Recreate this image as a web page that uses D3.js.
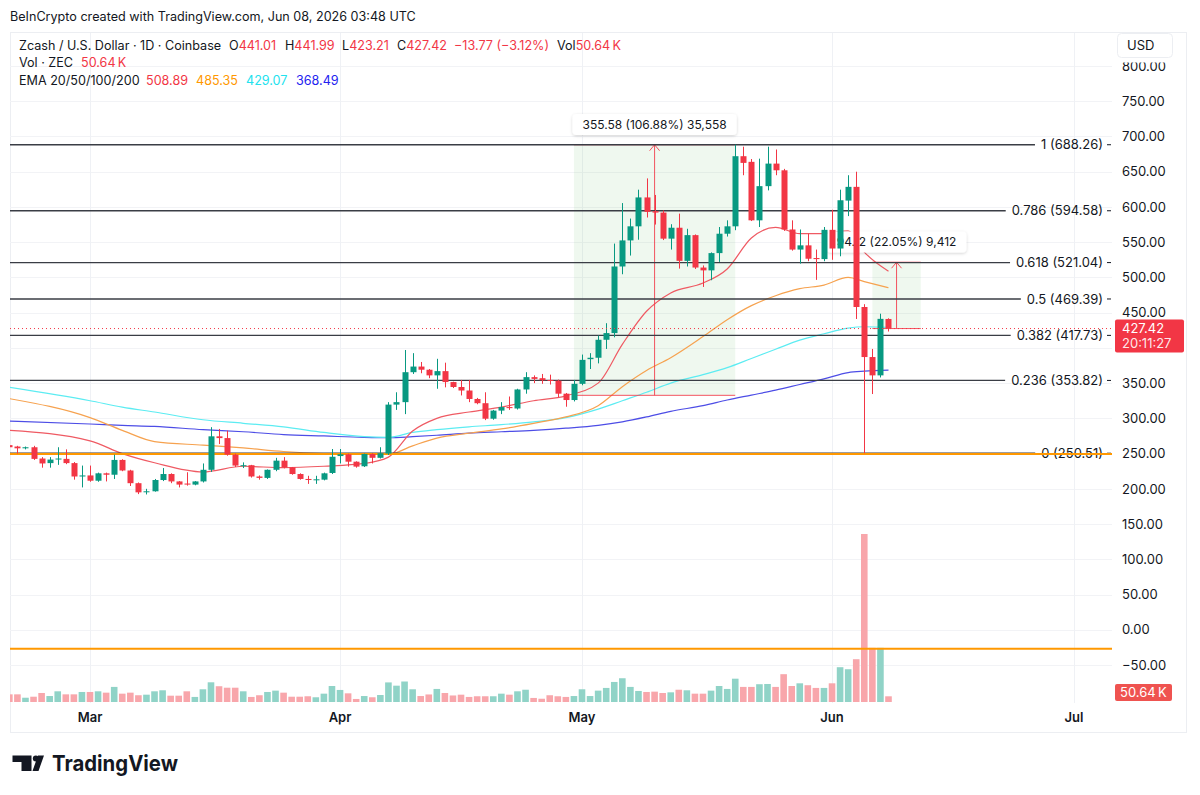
<!DOCTYPE html>
<html>
<head>
<meta charset="utf-8">
<script src="https://cdn.jsdelivr.net/npm/d3@7"></script>
<style>
  body { margin: 0; background: #fff; }
  svg { display: block; font-family: Inter, Roboto, "Noto Sans", sans-serif; }
</style>
</head>
<body>
<script>
// ---- data (ZEC/USD daily, Coinbase) ----
var startDay = "2026-02-19", endDay = "2026-06-08";

var opens = [262, 260, 257.5, 259, 243, 236.5, 242, 242.5, 236.5, 217.5,
  219, 211.5, 222, 220, 241, 226, 208, 195.5, 196.5, 212.5, 221, 210.5, 207.5, 206, 210.5, 227, 274.5, 272, 248.5, 232.5, 233.5, 217.5, 215.5, 227, 240, 230.5, 221, 214, 212.5, 213, 222.5,
  246.5, 249, 238.5, 232, 249.5, 244, 250, 319.5, 323, 365.5, 373.5, 369, 361, 367, 351.5, 344.5, 339.5, 327.5, 321.5, 299.5, 311, 316, 314, 341, 358.5, 357, 354.5, 353.5, 335, 326,
  349, 384, 386, 411.5, 421, 515.5, 552.5, 572.5, 613.5, 594, 592, 555, 570.5, 523.5, 560, 514, 510, 534.5, 562, 572.5, 672, 664, 581, 629.5, 661.5, 652, 568, 539.5, 545.5, 527.5, 526,
  567.5, 541, 609, 628.5, 458, 387, 361, 441.01];
var highs = [264, 261, 260, 261, 245, 245, 259, 256, 238, 233,
  233, 223, 223, 248.5, 242, 227, 209, 200, 214, 229.5, 222, 211, 223.5, 211, 236, 287.5, 285, 282.5, 250, 237.5, 234, 219, 227.5, 244, 245, 231, 222, 218.5, 218.5, 223, 256.5,
  256.5, 250, 239, 250, 250.5, 259, 323, 337, 397, 392.5, 380, 370, 384.5, 379, 352, 354.5, 354.5, 329, 337, 312, 323, 331, 342, 365.5, 361, 363, 362, 355, 336, 354.5,
  390.5, 392.5, 417.5, 435, 548, 605.5, 583.5, 624.5, 640.5, 617, 595, 575.5, 590.5, 569, 561, 517, 535.5, 571.5, 581, 688.26, 685.5, 668, 668.5, 685.5, 681.5, 654, 581, 568, 562, 539.5, 571.5,
  596, 624.5, 645, 650, 462, 398.5, 448.5, 441.99];
var lows = [257, 250, 256, 241, 230, 230, 234, 235, 213, 202,
  210, 210, 210.5, 214, 225, 204, 192.5, 192, 196, 211, 208, 202, 204.5, 205, 209, 224, 263.5, 247, 231, 229.5, 216, 213, 214, 225, 229, 220, 213, 207, 207, 212, 221,
  236, 231.5, 230, 231, 236, 243, 248, 312, 306, 363, 364, 357, 342, 344, 343, 332.5, 323, 320, 297.5, 298, 306, 312, 312.5, 335, 350, 349, 348, 330, 316.5, 324,
  347, 370, 378, 398.5, 415, 504.5, 531, 553.5, 585, 575, 553, 539.5, 512.5, 515.5, 512, 486.5, 496, 522, 558, 567, 645, 580, 571.5, 623.5, 645, 566, 538, 519.5, 523, 496.5, 523,
  525, 530, 587, 441, 250.51, 334.5, 358, 423.21];
var closes = [259, 257.5, 259, 242.5, 236, 241.5, 243, 236.5, 217.5, 219,
  211.5, 222, 220, 241, 226, 208, 195, 196.5, 212.5, 221, 210.5, 206, 206, 210.5, 227, 274.5, 272, 248.5, 233, 233.5, 217.5, 215.5, 227, 240, 230.5, 221, 214, 212.5, 213.5, 222, 245.5,
  249, 238.5, 231.5, 249.5, 244, 250.5, 319.5, 323, 365.5, 373.5, 369, 361, 367, 351.5, 344.5, 339.5, 327.5, 321.5, 299.5, 311, 316, 314.5, 341, 358.5, 356, 354, 353.5, 335, 326, 349,
  383, 386, 411.5, 421, 515.5, 552.5, 572.5, 613.5, 593, 592, 555, 570.5, 523.5, 560, 514, 510, 534.5, 562, 572.5, 672, 662.5, 581, 629.5, 661.5, 652, 568, 539.5, 545.5, 526.5, 526, 567.5,
  541, 609.5, 628.5, 458, 387, 361, 441.19, 427.42];
// volume in thousands of ZEC
var volumes = [68, 68, 38, 47, 80, 53, 95, 68, 68, 89,
  89, 95, 83, 134, 74, 83, 60, 65, 95, 104, 56, 56, 95, 45, 113, 175, 140, 127, 127, 95, 45, 60, 89, 101, 83, 47, 47, 51, 42, 74, 142,
  107, 77, 27, 53, 42, 62, 174, 145, 182, 113, 53, 67, 116, 80, 58, 65, 45, 51, 51, 51, 74, 65, 95, 109, 36, 29, 60, 51, 45, 53,
  113, 53, 101, 125, 178, 211, 134, 98, 89, 92, 80, 86, 109, 104, 74, 74, 101, 142, 116, 207, 134, 134, 158, 160, 134, 247, 142, 166, 149, 125, 125,
  166, 309, 291, 380, 1492, 481, 481, 50.64];

// EMA readings at sample days
var emaDays = ["2026-02-19", "2026-03-01", "2026-03-05", "2026-03-09", "2026-03-15", "2026-03-20", "2026-03-25", "2026-03-30",
  "2026-04-04", "2026-04-07", "2026-04-10", "2026-04-13", "2026-04-17", "2026-04-21", "2026-04-25", "2026-04-29",
  "2026-05-03", "2026-05-06", "2026-05-09", "2026-05-12", "2026-05-16", "2026-05-19", "2026-05-22", "2026-05-25",
  "2026-05-28", "2026-05-31", "2026-06-03", "2026-06-05", "2026-06-08"];
var ema20 = [283, 268, 250, 237, 224, 232, 230, 232, 236, 245, 282, 300, 309, 316, 325, 332, 350, 405, 452, 478, 492, 512, 556, 571, 562, 562, 566, 536, 508.89];
var ema50 = [328, 301, 283, 267, 262, 258, 253, 250, 249, 249, 261, 272, 279, 285, 293, 302, 318, 345, 368, 386, 416, 440, 460, 474, 484, 489, 500, 494, 485.35];
var ema100 = [344, 325, 316, 309, 298, 293, 288, 280, 274, 273, 280, 284, 288, 291, 295, 301, 313, 325, 337, 350, 362, 372, 385, 398, 411, 420, 428, 430, 429.07];
var ema200 = [296, 292, 290, 288.5, 284, 281, 277, 275, 273, 272.5, 274, 276, 279, 281, 283, 286, 290, 295, 302, 310, 318, 326, 333, 340, 348, 356, 365, 367, 368.49];

var fibRatios = ["1", "0.786", "0.618", "0.5", "0.382", "0.236", "0"];
var fibPrices = [688.26, 594.58, 521.04, 469.39, 417.73, 353.82, 250.51];
var orangeLevels = [249.3, -27];

var measureFrom = ["2026-04-30", "2026-06-06"];
var measureTo = ["2026-05-20", "2026-06-12"];
var measureLow = [332.68, 427.42];
var measureHigh = [688.26, 521.54];
var measureText = ["355.58 (106.88%) 35,558", "94.12 (22.05%) 9,412"];

var priceTicks = [800, 750, 700, 650, 600, 550, 500, 450, 400, 350, 300, 250, 200, 150, 100, 50, 0, -50];
var monthDays = ["2026-03-01", "2026-04-01", "2026-05-01", "2026-06-01", "2026-07-01"];
var monthNames = ["Mar", "Apr", "May", "Jun", "Jul"];
var lastPrice = 427.42;

// ---- layout ----
var W = 1200, H = 795;
var pL = 10, pR = 1112, pT = 33, pB = 703;
var green = "#089981", red = "#f23645", ink = "#131722";

var parse = d3.utcParse("%Y-%m-%d");
var days = d3.utcDay.range(parse(startDay), d3.utcDay.offset(parse(endDay), 1));

var x = d3.scaleUtc().domain([parse("2026-03-01"), parse("2026-07-01")]).range([90, 1074]);
var y = d3.scaleLinear().domain([-50, 800]).range([665, 66]);
var yv = d3.scaleLinear().domain([0, d3.max(volumes)]).range([702, 534]);

var svg = d3.select("body").append("svg").attr("width", W).attr("height", H);
svg.append("rect").attr("width", W).attr("height", H).attr("fill", "#fff");

var defs = svg.append("defs");
defs.append("clipPath").attr("id", "plot").append("rect")
  .attr("x", pL).attr("y", pT).attr("width", pR - pL).attr("height", pB - pT);
defs.append("clipPath").attr("id", "axisclip").append("rect")
  .attr("x", pR).attr("y", 62.5).attr("width", 80).attr("height", 620);
var f = defs.append("filter").attr("id", "shadow").attr("x", "-20%").attr("y", "-50%").attr("width", "140%").attr("height", "200%");
f.append("feDropShadow").attr("dx", 0).attr("dy", 1).attr("stdDeviation", 1.5).attr("flood-color", "#000").attr("flood-opacity", 0.18);

// frame
svg.append("rect").attr("x", pL + 0.5).attr("y", 32.5).attr("width", 1176).attr("height", 700)
  .attr("fill", "none").attr("stroke", "#eceef2");

var plot = svg.append("g").attr("clip-path", "url(#plot)");

// grid
plot.selectAll(".hg").data(priceTicks).enter().append("line")
  .attr("x1", pL).attr("x2", pR)
  .attr("y1", function(d) { return Math.round(y(d)) + 0.5; })
  .attr("y2", function(d) { return Math.round(y(d)) + 0.5; })
  .attr("stroke", "#f2f3f6");
plot.selectAll(".vg").data(monthDays).enter().append("line")
  .attr("x1", function(d) { return Math.round(x(parse(d))) + 0.5; })
  .attr("x2", function(d) { return Math.round(x(parse(d))) + 0.5; })
  .attr("y1", pT).attr("y2", pB)
  .attr("stroke", "#eff1f5");

// measure shading
measureFrom.forEach(function(d, i) {
  var x0 = x(parse(d)), x1 = x(parse(measureTo[i]));
  plot.append("rect").attr("x", x0).attr("width", x1 - x0)
    .attr("y", y(measureHigh[i])).attr("height", y(measureLow[i]) - y(measureHigh[i]))
    .attr("fill", "rgba(76,175,80,0.09)");
});

// fib levels
var fibG = svg.append("g");
fibPrices.forEach(function(p, i) {
  var yy = y(p);
  var t = fibG.append("text").attr("x", 1103).attr("y", yy).attr("dy", "0.35em")
    .attr("text-anchor", "end").attr("font-size", 13).attr("fill", ink)
    .text(fibRatios[i] + " (" + p.toFixed(2) + ")");
  var w = t.node().getComputedTextLength();
  fibG.insert("line", "text").attr("x1", pL).attr("x2", 1103 - w - 6)
    .attr("y1", yy).attr("y2", yy).attr("stroke", "#3a3d45").attr("stroke-width", 1.3);
  fibG.append("line").attr("x1", 1107).attr("x2", 1111).attr("y1", yy).attr("y2", yy)
    .attr("stroke", ink).attr("stroke-width", 1);
});

// orange horizontal lines
svg.selectAll(".ol").data(orangeLevels).enter().append("line")
  .attr("x1", pL).attr("x2", pR)
  .attr("y1", function(d) { return y(d); }).attr("y2", function(d) { return y(d); })
  .attr("stroke", "#ff9800").attr("stroke-width", 2);

// volume
plot.selectAll(".vol").data(days).enter().append("rect")
  .attr("x", function(d) { return x(d) - 3.3; })
  .attr("width", 6.6)
  .attr("y", function(d, i) { return yv(volumes[i]); })
  .attr("height", function(d, i) { return 702 - yv(volumes[i]); })
  .attr("fill", function(d, i) { return closes[i] >= opens[i] ? "#90d3c7" : "#f8a6ab"; });

// EMAs
var emaDates = emaDays.map(parse);
var line = d3.line().curve(d3.curveMonotoneX)
  .x(function(d) { return x(d[0]); }).y(function(d) { return y(d[1]); });
[[ema200, "#4d4de6"], [ema100, "#5cecf2"], [ema50, "#f6a24f"], [ema20, "#ef5a63"]].forEach(function(s) {
  plot.append("path").datum(emaDates.map(function(d, i) { return [d, s[0][i]]; }))
    .attr("d", line).attr("fill", "none").attr("stroke", s[1]).attr("stroke-width", 1.2);
});

// measure lines + arrows
measureFrom.forEach(function(d, i) {
  var x0 = x(parse(d)), x1 = x(parse(measureTo[i])), xm = (x0 + x1) / 2;
  var yh = y(measureHigh[i]), yl = y(measureLow[i]);
  var g = plot.append("g").attr("stroke", red).attr("stroke-opacity", 0.85).attr("fill", "none").attr("stroke-width", 1);
  g.append("line").attr("x1", x0).attr("x2", x1).attr("y1", yh).attr("y2", yh);
  g.append("line").attr("x1", x0).attr("x2", x1).attr("y1", yl).attr("y2", yl);
  g.append("line").attr("x1", xm).attr("x2", xm).attr("y1", yl).attr("y2", yh);
  g.append("polyline").attr("points", (xm - 5) + "," + (yh + 6) + " " + xm + "," + yh + " " + (xm + 5) + "," + (yh + 6));
});

// measure label for the small move sits under the candles
function measureLabel(parent, i, ly) {
  var xm = (x(parse(measureFrom[i])) + x(parse(measureTo[i]))) / 2;
  var g = parent.append("g");
  var r = g.append("rect").attr("y", ly).attr("height", 21).attr("rx", 4)
    .attr("fill", "#fff").attr("filter", "url(#shadow)");
  var t = g.append("text").attr("x", xm).attr("y", ly + 14.5).attr("text-anchor", "middle")
    .attr("font-size", 12).attr("fill", ink).text(measureText[i]);
  var w = t.node().getComputedTextLength() + 20;
  r.attr("x", xm - w / 2).attr("width", w);
}
measureLabel(svg, 1, 231.5);

// candles
var candles = svg.append("g").attr("clip-path", "url(#plot)")
  .selectAll(".c").data(days).enter().append("g")
  .attr("fill", function(d, i) { return closes[i] >= opens[i] ? green : red; })
  .attr("stroke", function(d, i) { return closes[i] >= opens[i] ? green : red; });
candles.append("line")
  .attr("x1", function(d) { return Math.round(x(d)) + 0.5; })
  .attr("x2", function(d) { return Math.round(x(d)) + 0.5; })
  .attr("y1", function(d, i) { return y(highs[i]); })
  .attr("y2", function(d, i) { return y(lows[i]); })
  .attr("stroke-width", 1);
candles.append("rect")
  .attr("x", function(d) { return Math.round(x(d)) + 0.5 - 3; })
  .attr("width", 6)
  .attr("y", function(d, i) { return y(Math.max(opens[i], closes[i])); })
  .attr("height", function(d, i) { return Math.max(1, Math.abs(y(opens[i]) - y(closes[i]))); })
  .attr("stroke", "none");

measureLabel(svg, 0, 114);

// last price dotted line
svg.append("line").attr("x1", pL).attr("x2", pR)
  .attr("y1", y(lastPrice)).attr("y2", y(lastPrice))
  .attr("stroke", red).attr("stroke-dasharray", "1,3").attr("stroke-width", 1);

// price axis (labels under the last-price box are hidden, as in TradingView)
var boxTop = 319.5, boxBot = 352.5;
var ax = svg.append("g").attr("clip-path", "url(#axisclip)");
ax.selectAll("text").data(priceTicks.filter(function(d) { return y(d) + 6 < boxTop || y(d) - 6 > boxBot; }))
  .enter().append("text")
  .attr("x", 1122).attr("y", function(d) { return y(d); }).attr("dy", "0.36em")
  .attr("font-size", 13).attr("fill", ink)
  .text(function(d) { return d3.format(".2f")(d).replace("-", "\u2212"); });

svg.append("rect").attr("x", 1115).attr("y", boxTop).attr("width", 69).attr("height", boxBot - boxTop).attr("rx", 2).attr("fill", red);
svg.append("text").attr("x", 1122).attr("y", 333).attr("font-size", 13).attr("fill", "#fff").text(lastPrice.toFixed(2));
svg.append("text").attr("x", 1122).attr("y", 348).attr("font-size", 13).attr("fill", "#fff").attr("fill-opacity", 0.9).text("20:11:27");

svg.append("rect").attr("x", 1115).attr("y", 684).attr("width", 57).attr("height", 17).attr("rx", 2).attr("fill", "#ef5350");
svg.append("text").attr("x", 1120).attr("y", 697).attr("font-size", 13).attr("fill", "#fff").text("50.64\u202FK");

svg.append("rect").attr("x", 1117.5).attr("y", 33.5).attr("width", 55).attr("height", 24).attr("rx", 4)
  .attr("fill", "#fff").attr("stroke", "#eceef2");
svg.append("text").attr("x", 1127).attr("y", 50).attr("font-size", 13).attr("fill", ink).text("USD");

// time axis
svg.selectAll(".mt").data(monthDays).enter().append("text")
  .attr("x", function(d) { return x(parse(d)); }).attr("y", 721.5)
  .attr("text-anchor", "middle").attr("font-size", 13).attr("font-weight", 600).attr("fill", ink)
  .text(function(d, i) { return monthNames[i]; });

// header
function put(xp, yp, txt, col) {
  return svg.append("text").attr("x", xp).attr("y", yp).attr("font-size", 12.6).attr("fill", col || ink).text(txt);
}
put(10, 21, "BeInCrypto created with TradingView.com, Jun 08, 2026 03:48 UTC");
put(19, 49.5, "Zcash / U.S. Dollar \u00b7 1D \u00b7 Coinbase");
[["O", "441.01", 229], ["H", "441.99", 285], ["L", "423.21", 342], ["C", "427.42", 397]].forEach(function(o) {
  var t = put(o[2], 49.5, o[0]);
  t.append("tspan").attr("fill", red).text(o[1]);
});
put(454, 49.5, "\u221213.77 (\u22123.12%)", red);
put(557, 49.5, "Vol").append("tspan").attr("fill", red).text("50.64\u202FK");
put(19, 67, "Vol \u00b7 ZEC");
put(81, 67, "50.64\u202FK", red);
put(19, 85, "EMA 20/50/100/200");
put(146, 85, "508.89", "#f23645");
put(196, 85, "485.35", "#ff9800");
put(246, 85, "429.07", "#22e2ee");
put(296, 85, "368.49", "#2323f0");

// TradingView logo
var logo = svg.append("g").attr("fill", ink);
logo.append("path").attr("d", "M12.5,755.5 H31.5 V771 H21.5 V762 H12.5 Z");
logo.append("circle").attr("cx", 35.8).attr("cy", 758.6).attr("r", 3);
logo.append("path").attr("d", "M38,755.5 H44 L38.5,771 H32.5 Z");
logo.append("text").attr("x", 52).attr("y", 771).attr("font-size", 22).attr("font-weight", 700)
  .attr("textLength", 126).attr("lengthAdjust", "spacingAndGlyphs").text("TradingView");
</script>
</body>
</html>
